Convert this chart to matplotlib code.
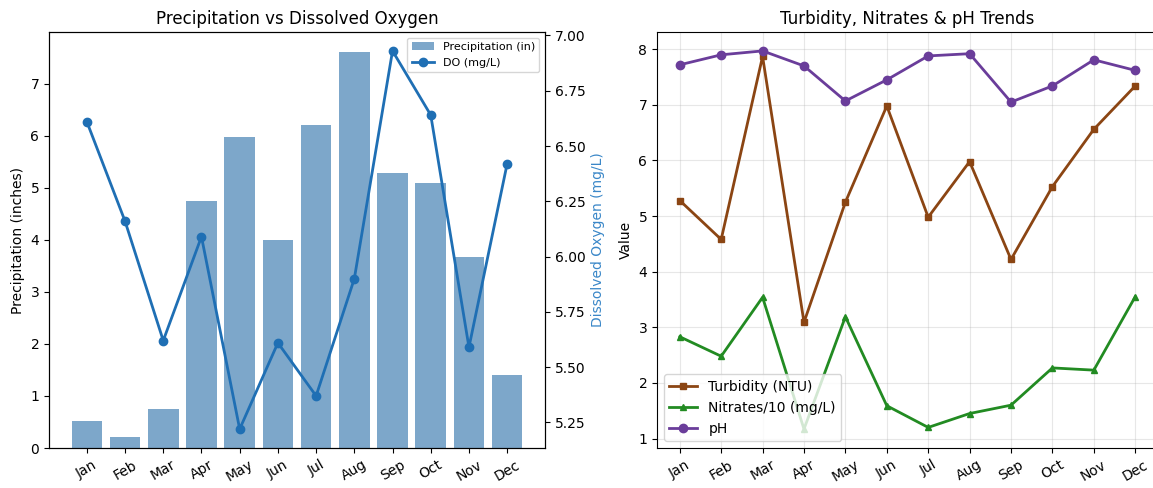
import numpy as np
import matplotlib
matplotlib.use("Agg")
import matplotlib.pyplot as plt

months = ["Jan", "Feb", "Mar", "Apr", "May", "Jun",
          "Jul", "Aug", "Sep", "Oct", "Nov", "Dec"]

# valeurs
precip = [0.51, 0.22, 0.74, 4.75, 5.97, 3.99, 6.20, 7.61, 5.29, 5.09, 3.67, 1.40]
dissolved_o2 = [6.61, 6.16, 5.62, 6.09, 5.22, 5.61, 5.37, 5.90, 6.93, 6.64, 5.59, 6.42]
turbidity = [5.28, 4.58, 7.87, 3.09, 5.25, 6.98, 4.98, 5.98, 4.22, 5.53, 6.56, 7.34]
nitrates_10 = [2.83, 2.48, 3.54, 1.17, 3.19, 1.59, 1.20, 1.45, 1.60, 2.27, 2.23, 3.55]
ph = [7.72, 7.90, 7.97, 7.70, 7.07, 7.45, 7.88, 7.92, 7.05, 7.34, 7.81, 7.62]

x = np.arange(len(months))

fig = plt.figure(figsize=(11.53, 4.88), dpi=100)
ax1 = fig.add_axes([49 / 1153, 1 - 448 / 488, (545 - 49) / 1153, (448 - 32) / 488])
ax3 = fig.add_axes([657 / 1153, 1 - 448 / 488, (1158 - 657) / 1153, (448 - 32) / 488])

# --- graphique de gauche
b = ax1.bar(x, precip, color="steelblue", alpha=0.7, label="Precipitation (in)")
ax1.set_ylabel("Precipitation (inches)")
ax1.set_xticks(x)
ax1.set_xticklabels(months, rotation=30)
ax1.set_title("Precipitation vs Dissolved Oxygen")

ax2 = ax1.twinx()
l, = ax2.plot(x, dissolved_o2, color="#1f6fb4", marker="o", linewidth=2,
              markersize=6, label="DO (mg/L)")
ax2.set_ylabel("Dissolved Oxygen (mg/L)", color="#3a87c8")
ax1.legend([b, l], ["Precipitation (in)", "DO (mg/L)"], loc="upper right", fontsize=8)

# --- graphique de droite
ax3.plot(x, turbidity, color="#8B4513", marker="s", linewidth=2, markersize=5,
         label="Turbidity (NTU)")
ax3.plot(x, nitrates_10, color="#228B22", marker="^", linewidth=2, markersize=5,
         label="Nitrates/10 (mg/L)")
ax3.plot(x, ph, color="#6a3d9a", marker="o", linewidth=2, markersize=6,
         label="pH")
ax3.set_xticks(x)
ax3.set_xticklabels(months, rotation=30)
ax3.set_ylabel("Value")
ax3.set_title("Turbidity, Nitrates & pH Trends")
ax3.grid(True, alpha=0.3)
ax3.legend(loc="lower left")

fig.savefig("out.png", dpi=100)
